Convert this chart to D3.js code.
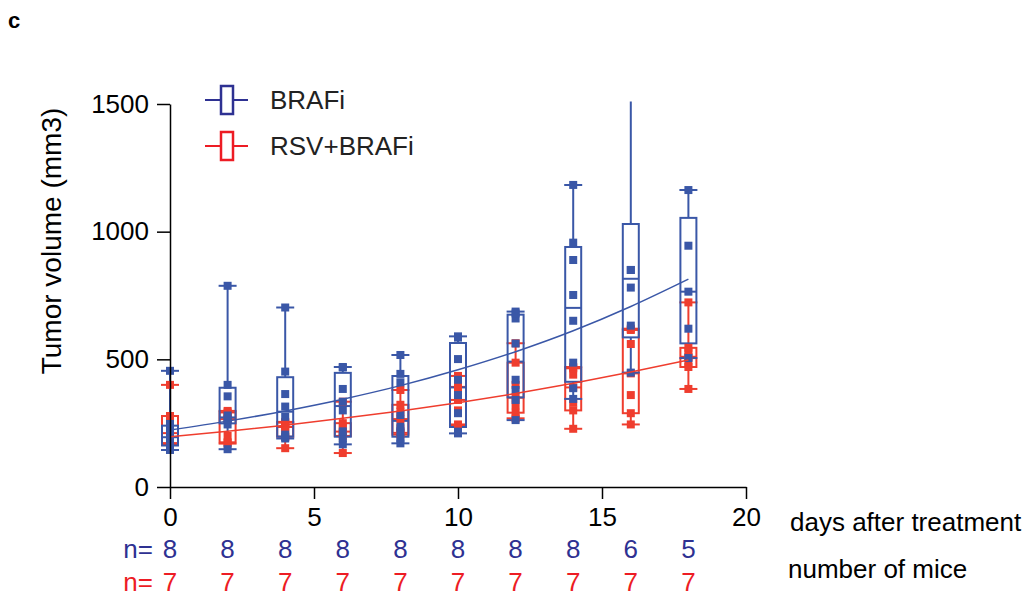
<!DOCTYPE html>
<html><head><meta charset="utf-8">
<script src="https://cdn.jsdelivr.net/npm/d3@7"></script>
<style>
html,body{margin:0;padding:0;background:#fff;}
text{font-family:"Liberation Sans",Arial,Helvetica,sans-serif;}
</style></head>
<body>
<svg id="chart" width="1024" height="597"></svg>
<script>
// ---- data ----
const days = [0, 2, 4, 6, 8, 10, 12, 14, 16, 18];
const braf = [
  [145, 155, 185, 190, 200, 220, 247, 455],
  [148, 245, 262, 265, 280, 355, 400, 788],
  [190, 195, 205, 275, 315, 364, 452, 703],
  [167, 190, 218, 300, 334, 384, 468, 470],
  [171, 190, 218, 236, 282, 410, 443, 517],
  [210, 217, 289, 360, 420, 501, 585, 590],
  [262, 341, 380, 420, 562, 660, 680, 687],
  [345, 387, 487, 651, 752, 889, 957, 1183],
  [448, 632, 781, 850, 850, 1570],
  [505, 620, 765, 945, 1163]
];
const rsvBraf = [
  [165, 172, 195, 211, 250, 278, 400],
  [170, 175, 200, 266, 278, 292, 298],
  [152, 197, 225, 235, 245, 252, 255],
  [133, 200, 210, 217, 231, 250, 334],
  [205, 212, 230, 266, 295, 322, 380],
  [240, 245, 300, 341, 373, 392, 435],
  [269, 291, 320, 350, 400, 487, 563],
  [228, 300, 330, 390, 440, 465, 470],
  [245, 289, 360, 445, 560, 615, 620],
  [384, 470, 490, 510, 530, 545, 723]
];
const fitDays = [0, 2, 4, 6, 8, 10, 12, 14, 16, 18];
const brafFit = [223, 258, 298, 344, 397, 459, 530, 612, 707, 814];
const rsvFit = [197, 218, 242, 269, 298, 330, 366, 406, 450, 497];
const nBraf = [8, 8, 8, 8, 8, 8, 8, 8, 6, 5];
const nRsv = [7, 7, 7, 7, 7, 7, 7, 7, 7, 7];
const xTicks = [0, 5, 10, 15, 20];
const yTicks = [0, 500, 1000, 1500];
const seriesNames = ["BRAFi", "RSV+BRAFi"];

// ---- styles ----
const BLUE = "#3a57a7", RED = "#ef3d2e";
const BLUE_T = "#2e3192", RED_T = "#ed1c24";
const FS = "26px";

const svg = d3.select("#chart");
const x = d3.scaleLinear().domain([0, 20]).range([170, 746]);
const y = d3.scaleLinear().domain([0, 1500]).range([487, 104]);

svg.append("defs").append("clipPath").attr("id", "clip")
  .append("rect").attr("x", 150).attr("y", y(1510)).attr("width", 620).attr("height", 420);

function q(sorted, p) {
  const n = sorted.length, pos = (n + 1) * p, lo = Math.floor(pos), fr = pos - lo;
  if (lo < 1) return sorted[0];
  if (lo >= n) return sorted[n - 1];
  return sorted[lo - 1] + fr * (sorted[lo] - sorted[lo - 1]);
}

function drawBoxes(data, color, g) {
  const bw = 16;
  data.forEach((vals, i) => {
    const s = vals.slice().sort((a, b) => a - b);
    const cx = x(days[i]);
    const mn = s[0], mx = s[s.length - 1];
    const q1 = q(s, 0.25), md = q(s, 0.5), q3 = q(s, 0.75);
    const gg = g.append("g").attr("stroke", color).attr("fill", "none").attr("stroke-width", 2);
    gg.append("line").attr("x1", cx).attr("x2", cx).attr("y1", y(mn)).attr("y2", y(q1));
    gg.append("line").attr("x1", cx).attr("x2", cx).attr("y1", y(q3)).attr("y2", y(mx));
    gg.append("line").attr("x1", cx - bw / 2 - 1).attr("x2", cx + bw / 2 + 1).attr("y1", y(mn)).attr("y2", y(mn));
    gg.append("line").attr("x1", cx - bw / 2 - 1).attr("x2", cx + bw / 2 + 1).attr("y1", y(mx)).attr("y2", y(mx));
    gg.append("rect").attr("x", cx - bw / 2).attr("width", bw).attr("y", y(q3)).attr("height", y(q1) - y(q3));
    gg.append("line").attr("x1", cx - bw / 2).attr("x2", cx + bw / 2).attr("y1", y(md)).attr("y2", y(md));
  });
}
function drawPoints(data, color, g) {
  const sz = 8;
  data.forEach((vals, i) => {
    g.selectAll(null).data(vals).enter().append("rect")
      .attr("x", x(days[i]) - sz / 2).attr("y", d => y(d) - sz / 2)
      .attr("width", sz).attr("height", sz).attr("fill", color);
  });
}

const plot = svg.append("g").attr("clip-path", "url(#clip)");
drawBoxes(rsvBraf, RED, plot);
drawBoxes(braf, BLUE, plot);
drawPoints(rsvBraf, RED, plot);
drawPoints(braf, BLUE, plot);

const line = d3.line().x((d, i) => x(fitDays[i])).y(d => y(d)).curve(d3.curveMonotoneX);
plot.append("path").datum(rsvFit).attr("d", line).attr("fill", "none").attr("stroke", RED).attr("stroke-width", 1.5);
plot.append("path").datum(brafFit).attr("d", line).attr("fill", "none").attr("stroke", BLUE).attr("stroke-width", 1.5);

// axes
const yAxis = svg.append("g").attr("transform", "translate(170,0)")
  .call(d3.axisLeft(y).tickValues(yTicks).tickFormat(d3.format("d")).tickSize(13).tickSizeOuter(0).tickPadding(8));
const xAxis = svg.append("g").attr("transform", "translate(0,487)")
  .call(d3.axisBottom(x).tickValues(xTicks).tickFormat(d3.format("d")).tickSize(12).tickSizeOuter(0).tickPadding(9));
[yAxis, xAxis].forEach(a => {
  a.selectAll("path,line").attr("stroke", "#000").attr("stroke-width", 1.5);
  a.selectAll("text").attr("fill", "#000").style("font-size", FS)
    .style("font-family", '"Liberation Sans",Arial,sans-serif');
});

// axis titles
svg.append("text").attr("transform", "translate(61,241) rotate(-90)")
  .attr("text-anchor", "middle").style("font-size", "28px").attr("fill", "#000")
  .text("Tumor volume (mm3)");
svg.append("text").attr("x", 790).attr("y", 531).style("font-size", FS).attr("fill", "#000")
  .text("days after treatment");
svg.append("text").attr("x", 788).attr("y", 578).style("font-size", FS).attr("fill", "#000")
  .text("number of mice");
svg.append("text").attr("x", 8).attr("y", 28).style("font-size", "22px").style("font-weight", "bold")
  .attr("fill", "#000").text("c");

// n rows
const rowY = [558, 591];
svg.append("text").attr("x", 153).attr("y", rowY[0]).attr("text-anchor", "end")
  .style("font-size", FS).attr("fill", BLUE_T).text("n=");
svg.append("text").attr("x", 153).attr("y", rowY[1]).attr("text-anchor", "end")
  .style("font-size", FS).attr("fill", RED_T).text("n=");
svg.selectAll(null).data(nBraf).enter().append("text")
  .attr("x", (d, i) => x(days[i])).attr("y", rowY[0]).attr("text-anchor", "middle")
  .style("font-size", FS).attr("fill", BLUE_T).text(d => d);
svg.selectAll(null).data(nRsv).enter().append("text")
  .attr("x", (d, i) => x(days[i])).attr("y", rowY[1]).attr("text-anchor", "middle")
  .style("font-size", FS).attr("fill", RED_T).text(d => d);

// legend
const legColors = [BLUE_T, RED_T];
seriesNames.forEach((name, i) => {
  const cy = 100 + i * 46;
  const g = svg.append("g").attr("stroke", legColors[i]).attr("fill", "none");
  g.append("line").attr("x1", 205).attr("x2", 248).attr("y1", cy).attr("y2", cy).attr("stroke-width", 2);
  g.append("rect").attr("x", 221).attr("y", cy - 14).attr("width", 12).attr("height", 28)
    .attr("fill", "#fff").attr("stroke-width", 2.5);
  svg.append("text").attr("x", 270).attr("y", cy + 9).style("font-size", FS).attr("fill", "#222").text(name);
});
</script>
</body></html>
